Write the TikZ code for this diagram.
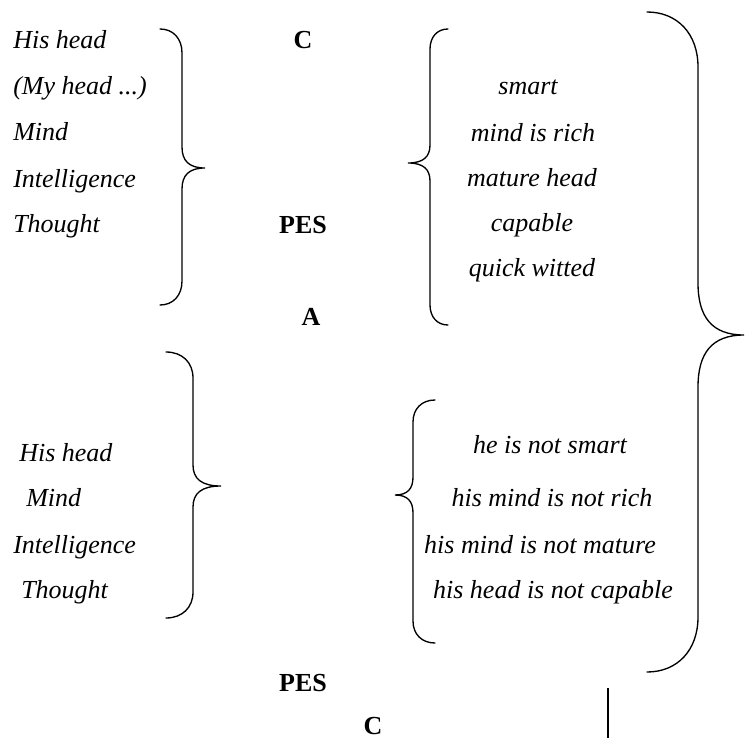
\documentclass[tikz,border=0pt]{standalone}
\usepackage{fontspec}
\setmainfont{Liberation Serif}
\newcommand\mybrace[8]{%
  \draw[bracestyle] (#1,#4) .. controls ({#1+(#2-#1)*0.6},{#4}) and ({#2},{#4+#7*0.4}) .. ({#2},{#4+#7})
    -- ({#2},{#5-#8}) .. controls ({#2},{#5-#8*0.35}) and ({#2+(#3-#2)*0.3},{#5}) .. ({#3},{#5})
    .. controls ({#2+(#3-#2)*0.3},{#5}) and ({#2},{#5+#8*0.35}) .. ({#2},{#5+#8})
    -- ({#2},{#6-#7}) .. controls ({#2},{#6-#7*0.4}) and ({#1+(#2-#1)*0.6},{#6}) .. (#1,#6);}
\begin{document}
\begin{tikzpicture}[x=0.75pt,y=-0.75pt,
  bracestyle/.style={line width=1pt,black,line cap=round},
  itxt/.style={font=\fontsize{19.5}{24}\selectfont\itshape,inner sep=0pt},
  btxt/.style={font=\fontsize{19.5}{24}\selectfont\bfseries,inner sep=0pt}]
\useasboundingbox (0,0) rectangle (745,738);
% top left list
\node[itxt,anchor=base west] (l1) at (13,49) {His head};
\node[itxt,anchor=base west] (l2) at (13,95) {(My head ...)};
\node[itxt,anchor=base west] (l3) at (13,141) {Mind};
\node[itxt,anchor=base west] (l4) at (13,187) {Intelligence};
\node[itxt,anchor=base west] (l5) at (13,232) {Thought};
% middle labels
\node[btxt,anchor=base] (c1) at (303,49) {C};
\node[btxt,anchor=base] (p1) at (303,233) {PES};
\node[btxt,anchor=base] (a1) at (311,325) {A};
% top right list
\node[itxt,anchor=base] (r1) at (528,95) {smart};
\node[itxt,anchor=base] (r2) at (533,141.7) {mind is rich};
\node[itxt,anchor=base] (r3) at (532,186.7) {mature head};
\node[itxt,anchor=base] (r4) at (532,231.7) {capable};
\node[itxt,anchor=base] (r5) at (532,276.7) {quick witted};
% bottom left list
\node[itxt,anchor=base west] (m1) at (19,461.7) {His head};
\node[itxt,anchor=base west] (m2) at (26,506.7) {Mind};
\node[itxt,anchor=base west] (m3) at (13,553.3) {Intelligence};
\node[itxt,anchor=base west] (m4) at (21,598.3) {Thought};
% bottom right list
\node[itxt,anchor=base] (n1) at (550,453) {he is not smart};
\node[itxt,anchor=base] (n2) at (552,506.7) {his mind is not rich};
\node[itxt,anchor=base] (n3) at (540,553) {his mind is not mature};
\node[itxt,anchor=base] (n4) at (553,598) {his head is not capable};
% bottom labels
\node[btxt,anchor=base] (p2) at (303,691.7) {PES};
\node[btxt,anchor=base] (c2) at (373,734) {C};
% braces
\mybrace{160}{182}{205}{29}{168}{305}{24}{21}
\mybrace{448}{430}{408}{29}{163}{325}{20}{18}
\mybrace{166}{193}{221}{352}{486}{618}{26}{21}
\mybrace{435}{413}{395}{400}{495}{643}{22}{18}
\mybrace{647}{698}{744}{12}{335}{672}{55}{52}
% vertical line
\coordinate (v1) at (608,688);
\coordinate (v2) at (608,738);
\draw[line width=0.9pt] (v1) -- (v2);
\end{tikzpicture}
\end{document}
